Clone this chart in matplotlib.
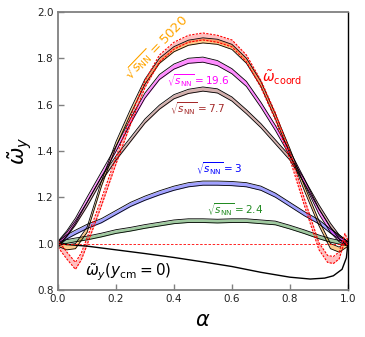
"""Vorticity ratio vs alpha for several collision energies."""

import matplotlib

matplotlib.use("Agg")
import matplotlib.pyplot as plt
import numpy as np

# ---- data ------------------------------------------------------------------
alpha = [0.0, 0.03, 0.06, 0.1, 0.15, 0.2, 0.25, 0.3, 0.35, 0.4, 0.45, 0.5,
         0.55, 0.6, 0.65, 0.7, 0.75, 0.8, 0.85, 0.9, 0.94, 0.97, 1.0]

w_5020 = [1.0, 0.985, 0.99, 1.06, 1.26, 1.43, 1.57, 1.70, 1.79, 1.84, 1.868, 1.878,
          1.872, 1.85, 1.79, 1.69, 1.55, 1.40, 1.24, 1.09, 0.99, 0.975, 1.0]
w_19p6 = [1.0, 1.045, 1.10, 1.19, 1.30, 1.41, 1.53, 1.64, 1.72, 1.765, 1.79, 1.795,
          1.78, 1.745, 1.69, 1.60, 1.50, 1.39, 1.27, 1.14, 1.06, 1.02, 1.0]
w_7p7 = [1.0, 1.04, 1.09, 1.17, 1.28, 1.37, 1.45, 1.53, 1.59, 1.635, 1.658, 1.668,
         1.66, 1.625, 1.57, 1.51, 1.44, 1.37, 1.27, 1.16, 1.08, 1.03, 1.0]
w_3 = [1.0, 1.03, 1.05, 1.075, 1.10, 1.135, 1.17, 1.197, 1.22, 1.24, 1.255, 1.262,
       1.262, 1.26, 1.255, 1.24, 1.21, 1.17, 1.13, 1.095, 1.055, 1.03, 1.0]
w_2p4 = [1.0, 1.01, 1.017, 1.025, 1.038, 1.053, 1.063, 1.075, 1.085, 1.095, 1.10, 1.10,
         1.098, 1.10, 1.10, 1.095, 1.09, 1.072, 1.052, 1.03, 1.015, 1.007, 1.0]
err_5020, err_19p6, err_7p7, err_3, err_2p4 = 0.011, 0.011, 0.009, 0.009, 0.008

alpha_coord = [0.0, 0.03, 0.06, 0.08, 0.1, 0.15, 0.2, 0.25, 0.3, 0.35, 0.4, 0.45, 0.5,
               0.55, 0.6, 0.65, 0.7, 0.75, 0.8, 0.85, 0.9, 0.93, 0.95, 0.97, 0.99, 1.0]
w_coord = [1.0, 0.95, 0.905, 0.945, 1.01, 1.18, 1.36, 1.53, 1.69, 1.80, 1.855, 1.885, 1.895,
           1.885, 1.865, 1.80, 1.69, 1.55, 1.38, 1.18, 0.99, 0.935, 0.93, 0.95, 1.03, 1.0]
err_coord = 0.015

alpha_cm0 = [0.0, 0.1, 0.2, 0.3, 0.4, 0.5, 0.6, 0.7, 0.8, 0.87, 0.92, 0.95, 0.98, 0.995, 1.0]
w_cm0 = [1.0, 0.99, 0.974, 0.958, 0.941, 0.922, 0.902, 0.877, 0.856, 0.848, 0.852, 0.862,
         0.89, 0.94, 1.0]

bands = [
    (w_2p4, err_2p4, "#2e8b2e"),
    (w_3, err_3, "#3030ff"),
    (w_7p7, err_7p7, "#a0524d"),
    (w_19p6, err_19p6, "#ff00ff"),
    (w_5020, err_5020, "#ff8c00"),
]

fig = plt.figure(figsize=(3.65, 3.37), dpi=100)
ax = fig.add_axes([0.159, 0.139, 0.794, 0.825])

a = np.array(alpha)
for vals, err, col in bands:
    v = np.array(vals)
    ax.fill_between(a, v - err, v + err, color=col, alpha=0.45, lw=0)
    ax.plot(a, v - err, color="k", lw=0.6)
    ax.plot(a, v + err, color="k", lw=0.6)

ac = np.array(alpha_coord)
vc = np.array(w_coord)
ax.fill_between(ac, vc - err_coord, vc + err_coord, color="red", alpha=0.25, lw=0)
ax.plot(ac, vc - err_coord, color="red", lw=0.8, ls=(0, (2, 1.2)))
ax.plot(ac, vc + err_coord, color="red", lw=0.8, ls=(0, (2, 1.2)))

ax.plot(alpha_cm0, w_cm0, color="k", lw=1.0)
ax.axhline(1.0, color="red", lw=0.6, ls=(0, (3, 2)))

ts = 7.5
ax.text(0.34, 1.845, r"$\sqrt{s_{\rm NN}}=5020$", color="#ffa500", fontsize=9.5,
        rotation=46, ha="center", va="center")
ax.text(0.483, 1.703, r"$\sqrt{s_{\rm NN}}=19.6$", color="#ff00ff", fontsize=ts,
        ha="center", va="center")
ax.text(0.483, 1.582, r"$\sqrt{s_{\rm NN}}=7.7$", color="#a52a2a", fontsize=ts,
        ha="center", va="center")
ax.text(0.555, 1.325, r"$\sqrt{s_{\rm NN}}=3$", color="#0000ff", fontsize=ts,
        ha="center", va="center")
ax.text(0.61, 1.147, r"$\sqrt{s_{\rm NN}}=2.4$", color="#228b22", fontsize=ts,
        ha="center", va="center")
ax.text(0.772, 1.716, r"$\tilde{\omega}_{\rm coord}$", color="red", fontsize=10,
        ha="center", va="center")
ax.text(0.243, 0.879, r"$\tilde{\omega}_y(y_{\rm cm}=0)$", color="k", fontsize=11,
        ha="center", va="center")

ax.set_xlim(0, 1)
ax.set_ylim(0.8, 2.0)
ax.set_xticks(np.arange(0, 1.01, 0.2))
ax.set_yticks(np.arange(0.8, 2.01, 0.2))
ax.xaxis.set_major_formatter(matplotlib.ticker.FormatStrFormatter("%.1f"))
ax.yaxis.set_major_formatter(matplotlib.ticker.FormatStrFormatter("%.1f"))
ax.tick_params(direction="in", length=4, width=1, color="#808080",
               labelsize=7.5, labelcolor="#222222", pad=3)
for side in ("left", "top", "bottom"):
    ax.spines[side].set_color("#808080")
    ax.spines[side].set_linewidth(1.3)
ax.spines["right"].set_color("k")
ax.spines["right"].set_linewidth(1.0)

ax.set_xlabel(r"$\alpha$", fontsize=15, labelpad=4)
ax.set_ylabel(r"$\tilde{\omega}_y$", fontsize=15, labelpad=2)

fig.savefig("out.png", dpi=100)
